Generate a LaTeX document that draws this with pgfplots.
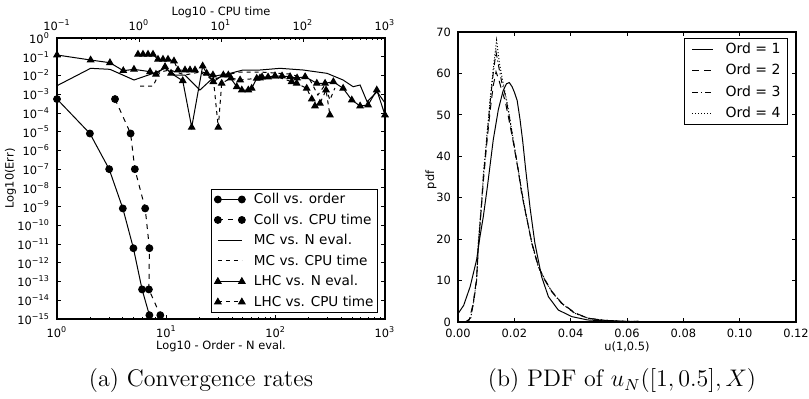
\documentclass[border=0pt]{standalone}
\usepackage{fontspec}
\usepackage{pgfplots}
\pgfplotsset{compat=1.18}
\newfontfamily\dv{DejaVu Sans}
\newcommand\tfont{\dv\fontsize{5.7}{6.8}\selectfont}
\newcommand\lfontA{\dv\fontsize{6.8}{8}\selectfont}
\newcommand\lfontB{\dv\fontsize{7}{8.2}\selectfont}
\newcommand\pe[1]{10\textsuperscript{#1}}
\begin{document}
\begin{tikzpicture}[x=1pt,y=1pt]
\useasboundingbox (0,0) rectangle (404.5,199);
\pgfplotsset{
  every axis/.append style={line width=0.5pt, tick align=inside,
    major tick length=1.8pt, minor tick length=1pt,
    tick style={line width=0.4pt, black},
    axis line style={line width=0.6pt},
    tick label style={font=\tfont}, label style={font=\tfont},
    scale only axis, clip mode=individual},
}
% ---------- left: CPU time axis (top) ----------
\begin{axis}[at={(28.5pt,39.5pt)}, anchor=south west, width=164pt, height=140.5pt,
  xmode=log, ymode=log, xmin=0.1, xmax=1000, ymin=1e-15, ymax=1,
  axis x line*=top, hide y axis,
  xtick={0.1,1,10,100,1000}, xticklabels={\pe{−1},\pe{0},\pe{1},\pe{2},\pe{3}},
  minor xtick={0.2,0.3,0.4,0.5,0.6,0.7,0.8,0.9,2,3,4,5,6,7,8,9,20,30,40,50,60,70,80,90,200,300,400,500,600,700,800,900},
  xlabel={Log10 - CPU time},
  xlabel style={at={(axis description cs:0.5,1.0907)}, anchor=center},
]
\addplot[black, dash pattern=on 2.5pt off 2.5pt, mark=*, mark size=1.7pt, mark options={solid}] coordinates {
(0.51,5.5e-4)(0.79,8e-6)(0.89,1e-7)(1.19,8e-10)(1.34,6e-12)(1.32,3.8e-14)(1.82,1.6e-15)};
\addplot[black, dash pattern=on 2pt off 2pt] coordinates {
(1.03,2.74e-3)(1.48,2.74e-3)(1.80,1.53e-2)(2.39,1.96e-2)(3.64,1.06e-2)(5.54,1.53e-2)(7.98,5.73e-3)(11.2,1.06e-2)(17.1,1.53e-2)(29.9,1.53e-2)(69.4,1.20e-2)(122,5.73e-3)(152,9.06e-4)(185,3.10e-3)(213,4.90e-4)(245,2.14e-3)};
\addplot[black, dash pattern=on 2pt off 2pt, mark=triangle*, mark size=1.8pt, mark options={solid}] coordinates {
(0.972,0.135)(1.119,0.135)(1.288,0.135)(1.482,0.135)(1.705,0.0729)(1.962,0.0729)(2.258,0.0729)(2.672,0.0592)(2.99,0.0196)(3.64,0.0196)(4.19,0.0196)(4.82,0.0196)(7.98,0.0106)(9.27,1.71e-5)(10.2,3.81e-3)(13.2,7.32e-3)(17.1,5.73e-3)(29.9,7.32e-3)(45.6,9.35e-3)(72.8,4.65e-3)(83.8,3.81e-3)(111,2.06e-3)(128,5.53e-4)(140,2.34e-4)(161,3.26e-4)(191,1.67e-3)(213,7.74e-5)};
\end{axis}
% ---------- left: N eval axis (bottom) ----------
\begin{axis}[at={(28.5pt,39.5pt)}, anchor=south west, width=164pt, height=140.5pt,
  xmode=log, ymode=log, xmin=1, xmax=1000, ymin=1e-15, ymax=1,
  xtick pos=left, xticklabel pos=left,
  xtick={1,10,100,1000}, xticklabels={\pe{0},\pe{1},\pe{2},\pe{3}},
  minor xtick={2,3,4,5,6,7,8,9,20,30,40,50,60,70,80,90,200,300,400,500,600,700,800,900},
  ytick={1e-15,1e-14,1e-13,1e-12,1e-11,1e-10,1e-9,1e-8,1e-7,1e-6,1e-5,1e-4,1e-3,1e-2,1e-1,1},
  yticklabels={\pe{−15},\pe{−14},\pe{−13},\pe{−12},\pe{−11},\pe{−10},\pe{−9},\pe{−8},\pe{−7},\pe{−6},\pe{−5},\pe{−4},\pe{−3},\pe{−2},\pe{−1},\pe{0}},
  yminorticks=false,
  xlabel={Log10 - Order - N eval.},
  xlabel style={at={(axis description cs:0.5,-0.0961)}, anchor=center},
  ylabel={Log10(Err)},
  ylabel style={at={(axis description cs:-0.1418,0.5)}, anchor=center},
  legend cell align=left,
  legend image code/.code={\draw[#1] plot coordinates {(0pt,0pt) (12pt,0pt)}; \path (-1.7pt,0pt) (16.8pt,0pt);},
  legend style={at={(0.9787,0.0224)}, anchor=south east, draw=black, line width=0.5pt,
    fill=white, font=\lfontA, inner xsep=1pt, inner ysep=0pt,
    nodes={inner sep=1pt, text height=6.2pt, text depth=2.05pt}},
]
\addlegendimage{black, mark=*, mark size=1.7pt}
\addlegendentry{Coll vs. order}
\addlegendimage{black, dash pattern=on 2.5pt off 2.5pt, mark=*, mark size=1.7pt, mark options={solid}}
\addlegendentry{Coll vs. CPU time}
\addlegendimage{black}
\addlegendentry{MC vs. N eval.}
\addlegendimage{black, dash pattern=on 2pt off 2pt}
\addlegendentry{MC vs. CPU time}
\addlegendimage{black, mark=triangle*, mark size=1.8pt}
\addlegendentry{LHC vs. N eval.}
\addlegendimage{black, dash pattern=on 2pt off 2pt, mark=triangle*, mark size=1.8pt, mark options={solid}}
\addlegendentry{LHC vs. CPU time}
\addplot[black, mark=*, mark size=1.7pt, forget plot] coordinates {
(1,5.5e-4)(2,8e-6)(3,1e-7)(4,8e-10)(5,6e-12)(6,3.8e-14)(7,1.6e-15)};
\addplot[black, forget plot] coordinates {
(1,2.84e-3)(2.03,2.41e-2)(3.05,2.13e-2)(5.06,5.73e-3)(7.88,1.40e-2)(9.73,2.41e-2)(12.0,1.06e-2)(14.8,1.06e-2)(20.3,1.67e-3)(27.9,9.35e-3)(38.3,1.30e-2)(50.3,1.96e-2)(72,1.96e-2)(109.7,2.41e-2)(178,1.96e-2)(295,1.30e-2)(414,5.73e-3)(511,2.51e-3)(592,3.10e-3)(686,3.97e-4)(847,1.36e-3)(1000,3.39e-4)};
\addplot[black, mark=triangle*, mark size=1.8pt, forget plot] coordinates {
(1,0.124)(2.03,0.0669)(3.05,0.048)(4.04,0.018)(5.06,0.0213)(7.1,0.0159)(8.04,0.01153)(9.73,0.0294)(11.04,0.013)(14.13,5.25e-3)(17.07,1.71e-5)(21.5,0.032)(23.4,0.013)(26.9,4.65e-3)(33.2,0.0106)(36.9,0.0106)(44.1,2.51e-3)(49.0,1.67e-3)(56.2,1.67e-3)(60.4,2.06e-3)(67.1,7.05e-3)(75.1,8.28e-3)(85.2,8.28e-3)(98.7,9.35e-3)(114.4,9.35e-3)(135.5,8.59e-3)(157,7.32e-3)(186,8.59e-3)(238,3.81e-3)(283,3.81e-3)(337,4.65e-3)(414,2.06e-3)(497,4.9e-4)(592,2.34e-4)(700,2.65e-4)(841,1.67e-3)(1000,7.74e-5)};
\end{axis}
% ---------- right: PDF ----------
\begin{axis}[at={(229pt,38pt)}, anchor=south west, width=169pt, height=145pt,
  xmin=0, xmax=0.12, ymin=0, ymax=70, scaled ticks=false,
  xtick={0,0.02,0.04,0.06,0.08,0.1,0.12}, xticklabels={0.00,0.02,0.04,0.06,0.08,0.10,0.12},
  ytick={0,10,20,30,40,50,60,70}, yticklabels={0,10,20,30,40,50,60,70},
  xlabel={u(1,0.5)},
  xlabel style={at={(axis description cs:0.5,-0.085)}, anchor=center},
  ylabel={pdf},
  ylabel style={at={(axis description cs:-0.080,0.49)}, anchor=center},
  legend cell align=left,
  legend image code/.code={\draw[#1] (0pt,0pt) -- (10.5pt,0pt); \path (-1pt,0pt) (15.5pt,0pt);},
  legend style={at={(0.9763,0.9793)}, anchor=north east, draw=black, line width=0.5pt,
    fill=white, font=\lfontB, inner xsep=2.5pt, inner ysep=0pt,
    nodes={inner sep=1pt, text height=6.4pt, text depth=2.35pt}},
]
\addplot[black] coordinates {
(0,2.0)(0.002,4.0)(0.0043,8.5)(0.0066,15)(0.0078,20.6)(0.0090,25.5)(0.0105,33)(0.0125,43.9)(0.0143,51.2)(0.0160,55.8)(0.0172,57.5)(0.0182,57.8)(0.0192,56.8)(0.0200,55.5)(0.0210,53.5)(0.0220,49)(0.0230,43.5)(0.0240,37)(0.0256,27.5)(0.0273,19)(0.0297,10.9)(0.0321,6.1)(0.0356,2.9)(0.0404,1.3)(0.046,0.5)(0.055,0.15)(0.07,0.04)(0.09,0.01)(0.105,0)};
\addlegendentry{Ord = 1}
\addplot[black, dash pattern=on 3.5pt off 2.5pt] coordinates {
(0.0025,0)(0.0040,0.6)(0.0054,4.5)(0.0066,10.5)(0.0072,18)(0.0084,28.6)(0.0090,34)(0.0102,43)(0.0114,51)(0.0125,57)(0.0135,60.4)(0.0145,58.5)(0.0155,56)(0.0167,53.5)(0.0179,49.5)(0.0196,43.5)(0.0214,36.5)(0.0226,31)(0.0238,27)(0.0262,19.2)(0.0285,13.5)(0.0309,10)(0.0333,7.4)(0.0368,4.6)(0.0415,2.2)(0.0463,0.9)(0.052,0.4)(0.06,0.15)(0.075,0.05)(0.09,0.02)(0.105,0)};
\addlegendentry{Ord = 2}
\addplot[black, dash pattern=on 3pt off 1.5pt on 0.5pt off 1.5pt] coordinates {
(0.0030,0)(0.0045,1)(0.0056,5)(0.0066,10)(0.0073,19)(0.0084,29)(0.0090,35)(0.0102,44)(0.0114,53)(0.0125,60)(0.0135,65.2)(0.0145,61.5)(0.0155,58)(0.0167,55)(0.0179,50.8)(0.0196,44)(0.0214,36.7)(0.0226,31.5)(0.0238,27.2)(0.0262,19)(0.0285,13.3)(0.0309,10.2)(0.0333,7.3)(0.0368,4.5)(0.0415,2.1)(0.0463,0.9)(0.052,0.4)(0.06,0.15)(0.075,0.05)(0.09,0.02)(0.105,0)};
\addlegendentry{Ord = 3}
\addplot[black, dash pattern=on 0.5pt off 1pt] coordinates {
(0.0030,0)(0.0045,0.8)(0.0055,4.8)(0.0066,10.3)(0.0072,19.5)(0.0084,29)(0.0090,35.5)(0.0102,44.5)(0.0114,53.5)(0.0125,61)(0.0137,68)(0.0147,62.5)(0.0155,59.5)(0.0167,55.5)(0.0179,51.2)(0.0196,43.9)(0.0214,36.7)(0.0226,31.8)(0.0238,27)(0.0262,19.1)(0.0285,13.4)(0.0309,10.1)(0.0333,7.3)(0.0368,4.5)(0.0415,2.1)(0.0463,0.9)(0.052,0.4)(0.06,0.15)(0.075,0.05)(0.09,0.02)(0.105,0)};
\addlegendentry{Ord = 4}
\end{axis}
\node[anchor=base, font=\fontsize{12}{14}\selectfont] at (100.5,5.7) {(a) Convergence rates};
\node[anchor=base, font=\fontsize{12}{14}\selectfont] at (311,5.7) {(b) PDF of $u_N([1,0.5],X)$};
\end{tikzpicture}
\end{document}
